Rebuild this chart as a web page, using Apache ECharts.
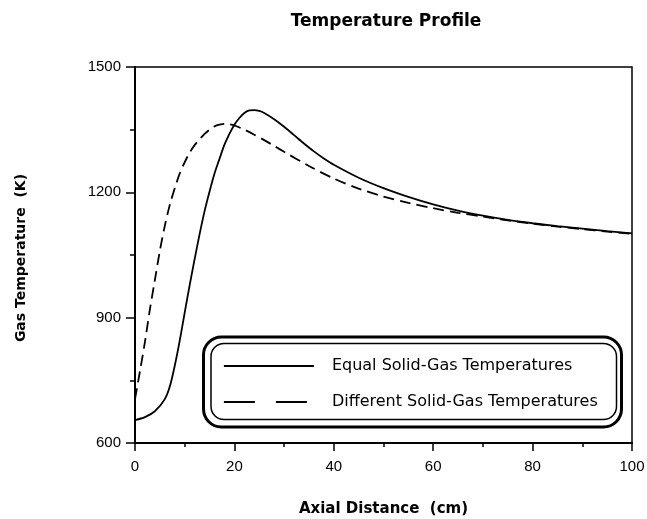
<!DOCTYPE html>
<html>
<head>
<meta charset="utf-8">
<script src="https://cdn.jsdelivr.net/npm/echarts@6/dist/echarts.min.js"></script>
<style>
  html, body { margin: 0; padding: 0; background: #fff; }
  #chart { width: 647px; height: 519px; }
</style>
</head>
<body>
<div id="chart"></div>
<script>
// Axial positions (cm) and gas temperatures (K)
const xEqual = [0, 2, 4, 6, 7, 8, 9, 10, 11, 12, 13, 14, 15, 16, 17, 18, 19, 20, 21, 22, 23, 24, 25, 26, 28, 30, 32, 34, 36, 38, 40, 45, 50, 55, 60, 65, 70, 75, 80, 85, 90, 95, 100];
const tEqual = [655, 662, 676, 705, 735, 785, 845, 912, 978, 1040, 1100, 1155, 1202, 1245, 1280, 1314, 1340, 1362, 1378, 1390, 1396, 1397, 1395, 1390, 1375, 1357, 1337, 1317, 1298, 1281, 1266, 1235, 1210, 1189, 1171, 1156, 1144, 1134, 1126, 1119, 1113, 1107, 1102];

const xDiff = [0, 1, 2, 3, 4, 5, 6, 7, 8, 9, 10, 11, 12, 13, 14, 15, 16, 17, 18, 19, 20, 22, 24, 26, 28, 30, 35, 40, 45, 50, 55, 60, 65, 70, 75, 80, 85, 90, 95, 100];
const tDiff = [705, 772, 842, 920, 990, 1060, 1120, 1170, 1210, 1245, 1272, 1295, 1313, 1327, 1340, 1350, 1358, 1362, 1364, 1363, 1360, 1350, 1338, 1325, 1311, 1297, 1263, 1233, 1209, 1190, 1175, 1162, 1151, 1142, 1133, 1125, 1118, 1112, 1106, 1101];

const seriesNames = ['Equal Solid-Gas Temperatures', 'Different Solid-Gas Temperatures'];
const yTicks = [600, 900, 1200, 1500];
const xTicks = [0, 20, 40, 60, 80, 100];

const pairs = (xs, ys) => xs.map((x, i) => [x, ys[i]]);

const TEXT_FONT = 'DejaVu Sans';
const NUM_FONT = 'Liberation Sans';
const noMarker = { color: 'transparent', borderColor: 'transparent', borderWidth: 0 };

const chart = echarts.init(document.getElementById('chart'), null, { renderer: 'canvas' });

chart.setOption({
  backgroundColor: '#fff',
  animation: false,
  color: ['#000', '#000'],
  title: {
    text: 'Temperature Profile',
    left: 381,
    top: 8,
    textAlign: 'center',
    textStyle: { fontFamily: TEXT_FONT, fontWeight: 'bold', fontSize: 17, color: '#000' }
  },
  grid: {
    left: 135, right: 15, top: 67, bottom: 76,
    containLabel: false,
    outerBoundsMode: 'none',
    show: true, borderColor: '#000', borderWidth: 1.5, backgroundColor: 'transparent'
  },
  xAxis: {
    type: 'value',
    min: xTicks[0], max: xTicks[xTicks.length - 1], interval: 20,
    name: 'Axial Distance  (cm)',
    nameLocation: 'middle',
    nameGap: 59,
    nameTextStyle: { fontFamily: TEXT_FONT, fontWeight: 'bold', fontSize: 15, color: '#000' },
    axisLine: { lineStyle: { color: '#000', width: 2 } },
    axisTick: { inside: false, length: 8, lineStyle: { color: '#000', width: 1.5 } },
    minorTick: { show: true, splitNumber: 2, length: 4, lineStyle: { color: '#000', width: 1.5 } },
    splitLine: { show: false },
    axisLabel: { margin: 16, fontFamily: NUM_FONT, fontSize: 15, color: '#000', formatter: v => String(v) }
  },
  yAxis: {
    type: 'value',
    min: yTicks[0], max: yTicks[yTicks.length - 1], interval: 300,
    axisLine: { show: true, lineStyle: { color: '#000', width: 2 } },
    axisTick: { show: true, inside: false, length: 9, lineStyle: { color: '#000', width: 1.5 } },
    minorTick: { show: true, splitNumber: 2, length: 5, lineStyle: { color: '#000', width: 1.5 } },
    splitLine: { show: false },
    axisLabel: { margin: 14, fontFamily: NUM_FONT, fontSize: 15, color: '#000', formatter: v => String(v) }
  },
  legend: {
    orient: 'vertical',
    left: 223,
    top: 358,
    padding: 0,
    z: 20,
    itemWidth: 90,
    itemHeight: 16,
    itemGap: 20,
    selectedMode: false,
    textStyle: { fontFamily: TEXT_FONT, fontSize: 16, color: '#000', padding: [0, 0, 0, 13] },
    data: [
      { name: seriesNames[0], itemStyle: noMarker, lineStyle: { type: 'solid', width: 1.8, color: '#000' } },
      { name: seriesNames[1], itemStyle: noMarker, lineStyle: { type: [31, 21], width: 1.8, color: '#000' } }
    ]
  },
  graphic: [
    {
      type: 'rect', z: 5,
      shape: { x: 203.5, y: 337, width: 418, height: 90, r: 18 },
      style: { fill: '#fff', stroke: '#000', lineWidth: 3 }
    },
    {
      type: 'rect', z: 6,
      shape: { x: 211, y: 343.5, width: 405.5, height: 76, r: 13 },
      style: { fill: 'none', stroke: '#000', lineWidth: 1.5 }
    },
    {
      type: 'text', z: 6,
      x: 21, y: 258, rotation: Math.PI / 2,
      style: {
        text: 'Gas Temperature  (K)',
        fontFamily: TEXT_FONT, fontWeight: 'bold', fontSize: 14,
        fill: '#000', align: 'center', verticalAlign: 'middle'
      }
    }
  ],
  series: [
    {
      name: seriesNames[0],
      type: 'line',
      data: pairs(xEqual, tEqual),
      smooth: 0.3,
      showSymbol: false,
      symbol: 'none',
      lineStyle: { color: '#000', width: 1.8, type: 'solid' },
      z: 3
    },
    {
      name: seriesNames[1],
      type: 'line',
      data: pairs(xDiff, tDiff),
      smooth: 0.3,
      showSymbol: false,
      symbol: 'none',
      lineStyle: { color: '#000', width: 1.8, type: [11, 6] },
      z: 3
    }
  ]
});
</script>
</body>
</html>
